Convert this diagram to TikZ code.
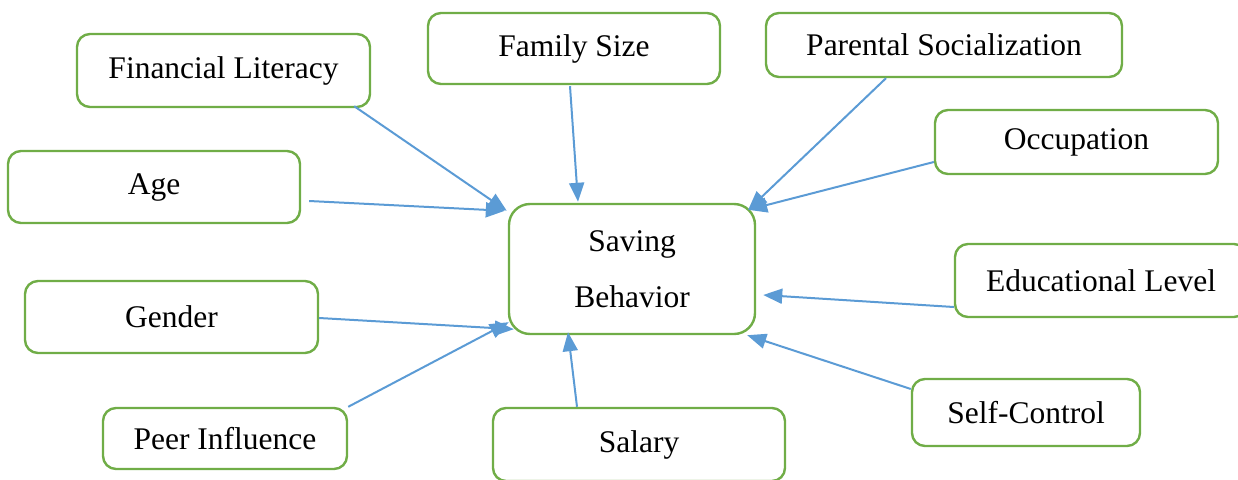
\documentclass[tikz,border=0pt]{standalone}
\usepackage{fontspec}
\setmainfont{Liberation Serif}
\usetikzlibrary{arrows.meta}
\definecolor{boxgreen}{HTML}{70AD47}
\definecolor{arrowblue}{HTML}{5B9BD5}
\begin{document}
\begin{tikzpicture}[x=1pt,y=-1pt,
  factor/.style={draw=boxgreen, line width=2.4pt, rounded corners=13pt,
    fill=white, inner sep=0pt, align=center,
    font=\fontsize{31.5}{56}\selectfont},
  link/.style={draw=arrowblue, line width=2pt,
    -{Triangle[length=19pt,width=15pt]}}]
  \useasboundingbox (0,0) rectangle (1238,479);

  % factors around the central outcome
  \node[factor, minimum width=293pt, minimum height=73pt] (fin) at (223.5,70.5) {Financial Literacy};
  \node[factor, minimum width=292pt, minimum height=71pt] (fam) at (574,48.5) {Family Size};
  \node[factor, minimum width=356pt, minimum height=64pt] (par) at (944,45) {Parental Socialization};
  \node[factor, minimum width=283pt, minimum height=64pt] (occ) at (1076.5,142) {Occupation};
  \node[factor, minimum width=292pt, minimum height=72pt] (age) at (154,187) {Age};
  \node[factor, minimum width=292pt, minimum height=73pt] (edu) at (1101,280.5) {Educational Level};
  \node[factor, minimum width=293pt, minimum height=72pt] (gen) at (171.5,317) {Gender};
  \node[factor, minimum width=244pt, minimum height=61pt] (peer) at (225,438.5) {Peer Influence};
  \node[factor, minimum width=292pt, minimum height=73pt] (sal) at (639,444.5) {Salary};
  \node[factor, minimum width=228pt, minimum height=67pt] (sc) at (1026,412.5) {Self-Control};

  % central outcome
  \node[factor, rounded corners=21pt, minimum width=246pt, minimum height=130pt] (sav) at (632,269) {Saving\\Behavior};

  % influences
  \draw[link] ([shift={(-17,-2)}]fin.south east) -- ([shift={(-1,8)}]sav.north west);
  \draw[link] ([shift={(-4,1)}]fam.south) -- ([shift={(-54,-1)}]sav.north);
  \draw[link] ([shift={(-58,0)}]par.south) -- ([shift={(-8,7)}]sav.north east);
  \draw[link] ([shift={(0,20)}]occ.west) -- ([shift={(-8,7)}]sav.north east);
  \draw[link] ([shift={(8,14)}]age.east) -- ([shift={(-3,8)}]sav.north west);
  \draw[link] ([shift={(0,26.5)}]edu.west) -- ([shift={(7,26)}]sav.east);
  \draw[link] ([shift={(0,1)}]gen.east) -- ([shift={(6,-6)}]sav.south west);
  \draw[link] (peer.north east) -- ([shift={(1,-13)}]sav.south west);
  \draw[link] ([shift={(-62,0)}]sal.north) -- ([shift={(-64,-3)}]sav.south);
  \draw[link] ([shift={(0,-23.5)}]sc.west) -- ([shift={(-9,0)}]sav.south east);
\end{tikzpicture}
\end{document}
